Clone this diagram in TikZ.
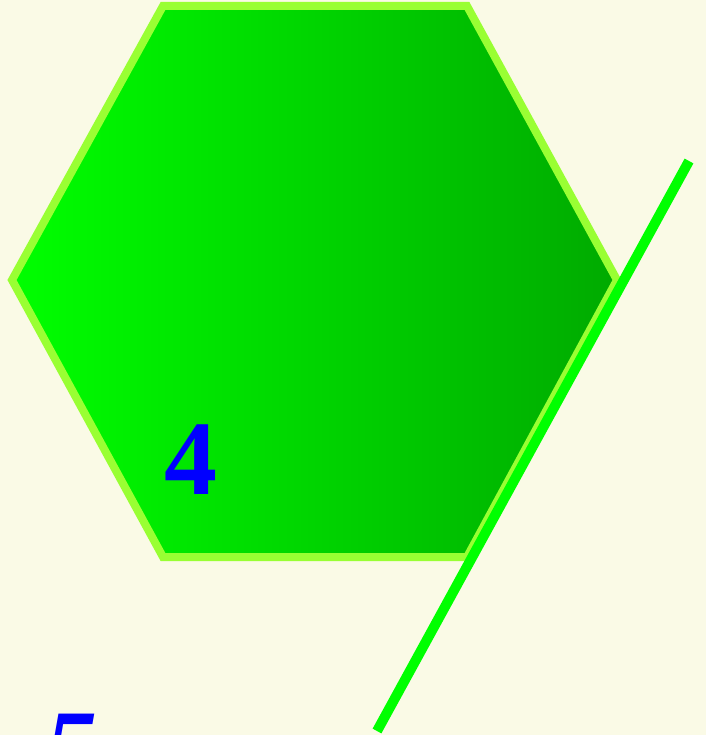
\documentclass[tikz,border=0pt]{standalone}
\usepackage{fontspec}
\newfontfamily\digitserif{Liberation Serif}
\definecolor{paper}{HTML}{FAFAE6}
\definecolor{rim}{HTML}{99FF33}
\definecolor{hexleft}{HTML}{00FF00}
\definecolor{hexright}{HTML}{00AA00}
\definecolor{linegreen}{HTML}{00FF00}
\definecolor{digitblue}{HTML}{0000FF}
\tikzset{
  digit/.style={text=digitblue, inner sep=0pt, font=\digitserif\fontsize{106}{106}\selectfont\bfseries},
}

\begin{document}
\begin{tikzpicture}[x=1pt,y=-1pt]
            \clip (0,0) rectangle (706,735);
            \fill[paper] (0,0) rectangle (706,735);

            % hexagon
            \path[draw=rim, line width=8pt, left color=hexleft, right color=hexright]
              (163,6) -- (467,6) -- (617,280) -- (467,557) -- (163,557) -- (12,280) -- cycle;

            \node[digit, anchor=base] (four) at (191,494) {4};
            \node[digit, anchor=base west, font=\digitserif\fontsize{106}{106}\selectfont\bfseries\itshape] (five) at (44,783) {5};

            % slanted stroke
            \coordinate (top) at (689,161);
            \coordinate (bot) at (377,731);
            \draw[draw=linegreen, line width=10pt] (top) -- (bot);
        \end{tikzpicture}
\end{document}
